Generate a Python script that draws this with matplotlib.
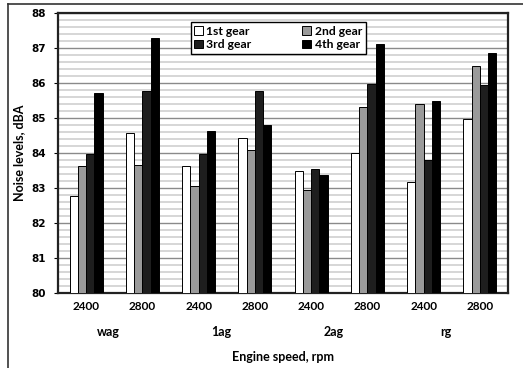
import numpy as np
import matplotlib
matplotlib.use("Agg")
import matplotlib.pyplot as plt
from matplotlib.lines import Line2D

# data
speeds = ["2400", "2800", "2400", "2800", "2400", "2800", "2400", "2800"]
gearbox = ["wag", "1ag", "2ag", "rg"]
gear_names = ["1st gear", "2nd gear", "3rd gear", "4th gear"]

gear1 = [82.77, 84.58, 83.62, 84.43, 83.49, 84.00, 83.17, 84.98]
gear2 = [83.62, 83.67, 83.07, 84.10, 82.93, 85.31, 85.39, 86.49]
gear3 = [83.97, 85.77, 83.97, 85.77, 83.53, 85.96, 83.81, 85.93]
gear4 = [85.71, 87.29, 84.62, 84.79, 83.36, 87.12, 85.49, 86.87]

colors = ["white", "#9a9a9a", "#1e1e1e", "black"]

plt.rcParams["font.family"] = ["Lato", "DejaVu Sans"]

fig = plt.figure(figsize=(5.23, 3.68), dpi=100)
ax = fig.add_axes([58 / 523, 1 - 293 / 368, 450 / 523, 280 / 368])

x = np.arange(len(speeds))
w = 0.146
for i, (vals, c) in enumerate(zip([gear1, gear2, gear3, gear4], colors)):
    ax.bar(x + (i - 1.5) * w, np.array(vals) - 80, bottom=80, width=w,
           color=c, edgecolor="black", linewidth=0.7, label=gear_names[i], zorder=3)

ax.set_xlim(-0.5, len(speeds) - 0.5)
ax.set_ylim(80, 88)
ax.set_yticks(np.arange(80, 89, 1))
ax.set_yticks(np.arange(80, 88.01, 0.2), minor=True)
ax.grid(axis="y", which="major", color="#8a8a8a", linewidth=1.0, zorder=0)
ax.grid(axis="y", which="minor", color="#cccccc", linewidth=1.1, zorder=0)
ax.tick_params(axis="y", which="minor", length=0)
ax.tick_params(axis="y", which="major", length=3, direction="out", pad=6)
ax.tick_params(axis="x", length=0, pad=6)

ax.set_xticks(x)
ax.set_xticklabels(speeds, fontsize=8.5, fontweight="bold")
for lab in ax.get_yticklabels():
    lab.set_fontfamily("DejaVu Sans")
    lab.set_fontweight("bold")
    lab.set_fontsize(7.5)

for sp in ax.spines.values():
    sp.set_linewidth(1.6)
    sp.set_color("#222222")

# gearbox labels under each pair of speeds
for k, name in enumerate(gearbox):
    ax.text(2 * k + 0.4, -0.14, name, transform=ax.get_xaxis_transform(),
            ha="center", va="center", fontsize=9, fontweight="bold")

ax.set_xlabel("Engine speed, rpm", fontsize=9, fontweight="bold", labelpad=28)
ax.set_ylabel("Noise levels, dBA", fontsize=9, fontweight="bold", labelpad=4)

h, l = ax.get_legend_handles_labels()
order = [0, 2, 1, 3]
leg = ax.legend([h[i] for i in order], [l[i] for i in order], ncol=2,
                loc="upper left", bbox_to_anchor=(0.295, 0.968),
                fontsize=8.7, frameon=True, fancybox=False, framealpha=1,
                edgecolor="black", handlelength=0.7, handleheight=0.7,
                handletextpad=0.3, columnspacing=4.2, labelspacing=0.2,
                borderpad=0.3, borderaxespad=0)
leg.get_frame().set_linewidth(1.0)
for t in leg.get_texts():
    t.set_fontweight("bold")

# outer frame of the picture
fig.add_artist(Line2D([7.5 / 523, 7.5 / 523], [0, 1 - 4 / 368], color="#333333", linewidth=1.2))
fig.add_artist(Line2D([7.5 / 523, 1], [1 - 4 / 368, 1 - 4 / 368], color="#333333", linewidth=1.2))

fig.savefig("out.png", dpi=100)
